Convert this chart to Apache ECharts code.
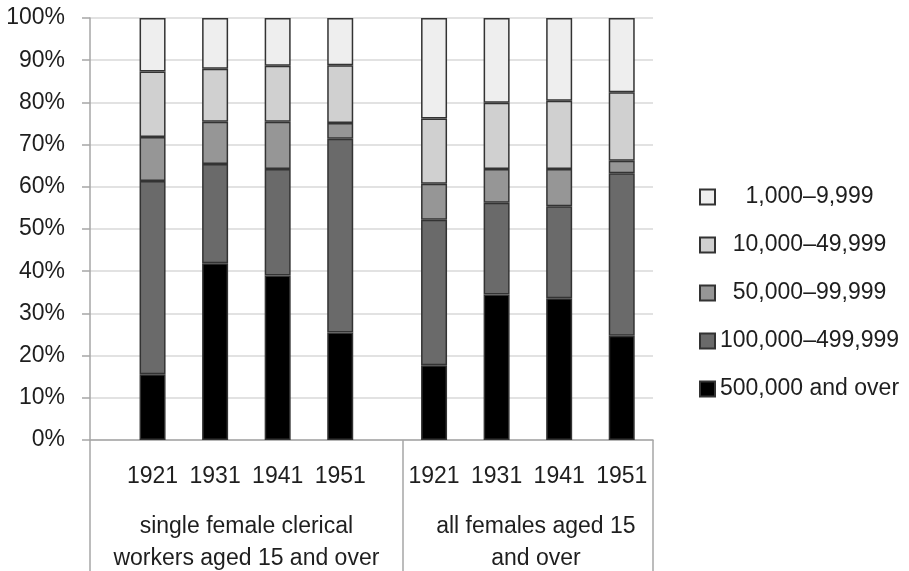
<!DOCTYPE html>
<html>
<head>
<meta charset="utf-8">
<script src="https://cdn.jsdelivr.net/npm/echarts@6/dist/echarts.min.js"></script>
<style>html,body{margin:0;padding:0;background:#fff;}#c{width:909px;height:571px;}</style>
</head>
<body>
<div id="c"></div>
<script>
// ---- data ----
var years = ['1921', '1931', '1941', '1951', '1921', '1931', '1941', '1951'];
var groups = ['single female clerical\nworkers aged 15 and over', 'all females aged 15\nand over'];
var seriesNames = ['500,000 and over', '100,000–499,999', '50,000–99,999', '10,000–49,999', '1,000–9,999'];
var v500k = [15.6, 41.9, 39.0, 25.5, 17.7, 34.5, 33.6, 24.7];
var v100k = [45.8, 23.5, 25.2, 45.9, 34.5, 21.7, 21.8, 38.5];
var v50k  = [10.4, 10.0, 11.2, 3.7, 8.5, 8.0, 8.8, 3.0];
var v10k  = [15.5, 12.6, 13.3, 13.7, 15.5, 15.7, 16.2, 16.2];
var v1k   = [12.7, 12.0, 11.3, 11.2, 23.8, 20.1, 19.6, 17.6];
var yTicks = [0, 10, 20, 30, 40, 50, 60, 70, 80, 90, 100];

// ---- layout (slot positions on a half-step category axis) ----
var SLOTS = 19;
var barSlot = [2, 4, 6, 8, 11, 13, 15, 17];
var groupSlot = [5, 14];
var dividerSlot = [0, 10, 18];
var colors = ['#000000', '#6a6a6a', '#969696', '#d0d0d0', '#eeeeee'];
var values = [v500k, v100k, v50k, v10k, v1k];

var cats = [], groupCats = [];
for (var i = 0; i < SLOTS; i++) { cats.push(''); groupCats.push(''); }
barSlot.forEach(function (s, k) { cats[s] = years[k]; });
groupSlot.forEach(function (s, k) { groupCats[s] = 'g' + k; });

function spread(arr) {
  var out = [];
  for (var i = 0; i < SLOTS; i++) out.push('-');
  barSlot.forEach(function (s, k) { out[s] = arr[k]; });
  return out;
}

var FONT = 'Liberation Sans';
var TXT = '#1e1e1e';
var series = seriesNames.map(function (n, idx) {
  return {
    name: n, type: 'bar', stack: 'all', barWidth: 26,
    data: spread(values[idx]),
    itemStyle: { color: colors[idx], borderColor: '#333', borderWidth: 1.5 },
    emphasis: { disabled: true }
  };
});

var chart = echarts.init(document.getElementById('c'), null, { renderer: 'canvas' });
chart.setOption({
  animation: false,
  backgroundColor: '#fff',
  grid: { left: 90, right: 256, top: 18, bottom: 131 },
  legend: {
    orient: 'vertical', left: 694, top: 180,
    itemWidth: 15, itemHeight: 15, itemGap: 24,
    icon: 'rect',
    data: seriesNames.slice().reverse(),
    textStyle: { fontFamily: FONT, fontSize: 23, color: TXT, lineHeight: 24 },
    formatter: function (n) {
      var pad = { '1,000–9,999': '    ', '10,000–49,999': '  ', '50,000–99,999': '  ' };
      return (pad[n] || '') + n;
    }
  },
  xAxis: [{
    type: 'category', data: cats, boundaryGap: false, position: 'bottom',
    axisLine: { lineStyle: { color: '#a6a6a6', width: 1.5 } },
    axisTick: {
      show: true, length: 140, lineStyle: { color: '#a6a6a6', width: 1.5 },
      interval: function (i) { return dividerSlot.indexOf(i) >= 0; }
    },
    axisLabel: { interval: 0, margin: 25, fontFamily: FONT, fontSize: 23, color: TXT },
    splitLine: { show: false }
  }, {
    type: 'category', data: groupCats, boundaryGap: false, position: 'bottom',
    axisLine: { show: false }, axisTick: { show: false }, splitLine: { show: false },
    axisLabel: {
      interval: 0, margin: 71, fontFamily: FONT, fontSize: 23, color: TXT,
      formatter: function (v) {
        if (v === 'g0') return groups[0].split('\n').map(function (l) { return '{a|' + l + '}'; }).join('\n');
        if (v === 'g1') return groups[1].split('\n').map(function (l) { return '{b|' + l + '}'; }).join('\n');
        return '';
      },
      rich: {
        a: { fontFamily: FONT, fontSize: 23, color: TXT, lineHeight: 32 },
        b: { fontFamily: FONT, fontSize: 23, color: TXT, lineHeight: 32, padding: [0, 0, 0, 16] }
      }
    }
  }],
  yAxis: {
    type: 'value', min: yTicks[0], max: yTicks[yTicks.length - 1], interval: 10,
    axisLine: { show: true, lineStyle: { color: '#a6a6a6', width: 1.5 } },
    axisTick: { show: true, length: 8, lineStyle: { color: '#a6a6a6', width: 1.5 } },
    axisLabel: { formatter: '{value}%', margin: 25, fontFamily: FONT, fontSize: 23, color: TXT },
    splitLine: { lineStyle: { color: '#d9d9d9', width: 1.5 } }
  },
  series: series
});
</script>
</body>
</html>
